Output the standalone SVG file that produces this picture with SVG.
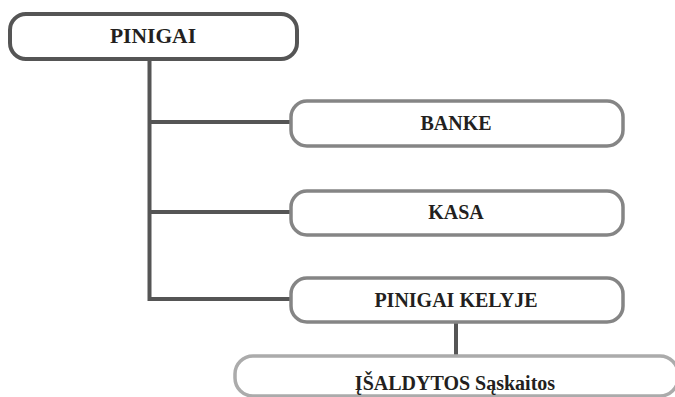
<svg xmlns="http://www.w3.org/2000/svg" width="675" height="397" viewBox="0 0 675 397">
  <style>
    .box { fill: #ffffff; stroke-width: 3.5; }
    .root { stroke: #555555; stroke-width: 4; }
    .mid { stroke: #858585; }
    .light { stroke: #ababab; }
    .link { fill: none; stroke: #555555; stroke-width: 4; }
  </style>
  <rect width="675" height="397" fill="#ffffff"/>

  <g id="connectors">
    <path class="link" d="M149.5 59 V299 H292"/>
    <path class="link" d="M149.5 122 H292"/>
    <path class="link" d="M149.5 212 H292"/>
    <path class="link" d="M456 322 V356"/>
  </g>

  <g id="nodes" font-family="Liberation Serif, serif" font-weight="bold" font-size="20" fill="#231f20" text-anchor="middle">
    <g id="pinigai">
      <rect class="box root" x="10" y="14" width="287" height="45" rx="16"/>
      <text x="153" y="43" font-size="21.5">PINIGAI</text>
    </g>

    <g id="banke">
      <rect class="box mid" x="291" y="101" width="332" height="45" rx="16"/>
      <text x="456" y="130">BANKE</text>
    </g>

    <g id="kasa">
      <rect class="box mid" x="291" y="191" width="332" height="44" rx="16"/>
      <text x="456" y="219">KASA</text>
    </g>

    <g id="pinigai-kelyje">
      <rect class="box mid" x="291" y="278" width="332" height="44" rx="16"/>
      <text x="456" y="307">PINIGAI KELYJE</text>
    </g>

    <g id="isaldytos-saskaitos">
      <rect class="box light" x="235" y="356" width="443" height="40" rx="18"/>
      <text x="455" y="390">ĮŠALDYTOS Sąskaitos</text>
    </g>
  </g>
</svg>
